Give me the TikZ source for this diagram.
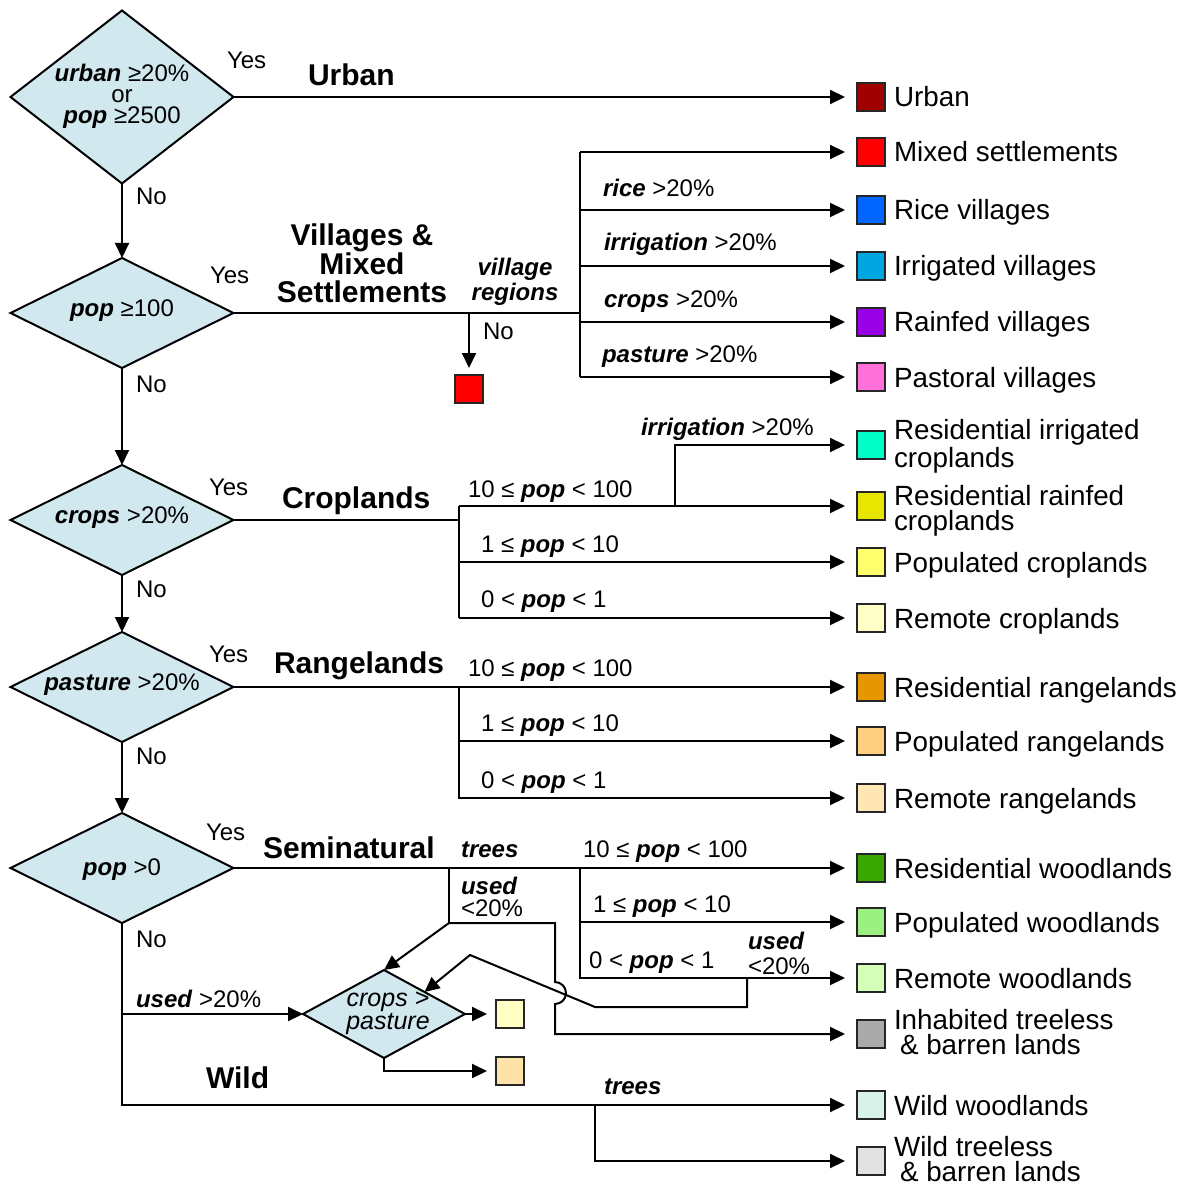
\documentclass[tikz,border=0pt]{standalone}
\usepackage{fontspec}
\setmainfont{Liberation Sans}
\usetikzlibrary{arrows.meta,shapes.geometric,calc}
\definecolor{dfill}{HTML}{D0E8EE}
\definecolor{cUrban}{HTML}{A00000}
\definecolor{cMixed}{HTML}{FF0000}
\definecolor{cRice}{HTML}{0066FF}
\definecolor{cIrr}{HTML}{00A6E0}
\definecolor{cRain}{HTML}{9900E6}
\definecolor{cPast}{HTML}{FF70D8}
\definecolor{cRIC}{HTML}{00FFC8}
\definecolor{cRRC}{HTML}{E6E600}
\definecolor{cPC}{HTML}{FFFF6E}
\definecolor{cRC}{HTML}{FFFFC8}
\definecolor{cRR}{HTML}{E69600}
\definecolor{cPR}{HTML}{FFCF80}
\definecolor{cRemR}{HTML}{FFE6B4}
\definecolor{cRW}{HTML}{38A800}
\definecolor{cPW}{HTML}{9CF080}
\definecolor{cRemW}{HTML}{D4FFB8}
\definecolor{cIT}{HTML}{AAAAAA}
\definecolor{cWW}{HTML}{D8F2EA}
\definecolor{cWT}{HTML}{E1E1E1}
\definecolor{cDa}{HTML}{FFFFC4}
\definecolor{cDb}{HTML}{FFE2A8}
\newcommand{\bi}[1]{\textbf{\textit{#1}}}
\begin{document}
\begin{tikzpicture}[x=0.5pt,y=-0.5pt,
  line width=1pt,
  arr/.style={-{Triangle[length=7.5pt,width=7pt]}},
  toBox/.style={arr, shorten >=6pt},
  dec/.style={diamond, draw, fill=dfill, inner sep=0pt, outer sep=0pt},
  lbox/.style={draw=black!85, line width=0.7pt, minimum size=14pt, inner sep=0pt, outer sep=0pt, anchor=west},
  sbox/.style={draw=black!85, line width=0.7pt, minimum size=14pt, inner sep=0pt, outer sep=0pt},
  ltext/.style={font=\fontsize{13.9}{12.5}\selectfont, inner sep=0pt, anchor=base west},
  ltexttwo/.style={font=\fontsize{13.9}{12.5}\selectfont, inner sep=0pt, anchor=north west, align=left},
  small/.style={font=\fontsize{12}{10.5}\selectfont, inner sep=0pt, anchor=base west},
  smalltwo/.style={font=\fontsize{12}{11}\selectfont, inner sep=0pt, anchor=north west, align=left},
  big/.style={font=\fontsize{15}{14.2}\selectfont\bfseries, inner sep=0pt, anchor=base west},
  dtext/.style={font=\fontsize{12}{10.5}\selectfont, inner sep=0pt, align=center},
]
\useasboundingbox (0,0) rectangle (1184,1187);

% ---------- decision diamonds ----------
\node[dec, minimum width=111.5pt, minimum height=86.5pt] (d1) at (122,97) {};
\node[dec, minimum width=111.5pt, minimum height=55pt] (d2) at (122,313) {};
\node[dec, minimum width=111.5pt, minimum height=55pt] (d3) at (122,520) {};
\node[dec, minimum width=111.5pt, minimum height=55pt] (d4) at (122,687) {};
\node[dec, minimum width=111.5pt, minimum height=55pt] (d5) at (122,868) {};
\node[dec, minimum width=81pt, minimum height=44pt] (d6) at (384,1014) {};

\node[dtext, anchor=north] (t1) at (122,63) {\bi{urban} ≥20\%\\or\\\bi{pop} ≥2500};
\node[dtext, anchor=base] (t2) at (122,317) {\bi{pop} ≥100};
\node[dtext, anchor=base] (t3) at (122,523) {\bi{crops} >20\%};
\node[dtext, anchor=base] (t4) at (122,690) {\bi{pasture} >20\%};
\node[dtext, anchor=base] (t5) at (122,875) {\bi{pop} >0};
\node[dtext, font=\fontsize{12.5}{10.5}\selectfont\itshape] (t6) at (388,1013) {crops >\\pasture};

% ---------- legend boxes ----------
\node[lbox, fill=cUrban] (bUrban) at (857,97) {};
\node[lbox, fill=cMixed] (bMixed) at (857,152) {};
\node[lbox, fill=cRice] (bRice) at (857,210) {};
\node[lbox, fill=cIrr] (bIrr) at (857,266) {};
\node[lbox, fill=cRain] (bRain) at (857,322) {};
\node[lbox, fill=cPast] (bPast) at (857,377) {};
\node[lbox, fill=cRIC] (bRIC) at (857,445) {};
\node[lbox, fill=cRRC] (bRRC) at (857,506) {};
\node[lbox, fill=cPC] (bPC) at (857,562) {};
\node[lbox, fill=cRC] (bRC) at (857,618) {};
\node[lbox, fill=cRR] (bRR) at (857,687) {};
\node[lbox, fill=cPR] (bPR) at (857,741) {};
\node[lbox, fill=cRemR] (bRemR) at (857,798) {};
\node[lbox, fill=cRW] (bRW) at (857,868) {};
\node[lbox, fill=cPW] (bPW) at (857,922) {};
\node[lbox, fill=cRemW] (bRemW) at (857,978) {};
\node[lbox, fill=cIT] (bIT) at (857,1034) {};
\node[lbox, fill=cWW] (bWW) at (857,1105) {};
\node[lbox, fill=cWT] (bWT) at (857,1161) {};

\node[ltext] (lUrban) at (893,107) {Urban};
\node[ltext] (lMixed) at (893,162) {Mixed settlements};
\node[ltext] (lRice) at (893,220) {Rice villages};
\node[ltext] (lIrr) at (893,276) {Irrigated villages};
\node[ltext] (lRain) at (893,332) {Rainfed villages};
\node[ltext] (lPast) at (893,387) {Pastoral villages};
\node[ltexttwo] (lRIC) at (893,418) {Residential irrigated\\croplands};
\node[ltexttwo] (lRRC) at (893,484) {Residential rainfed\\croplands};
\node[ltext] (lPC) at (893,572) {Populated croplands};
\node[ltext] (lRC) at (893,628) {Remote croplands};
\node[ltext] (lRR) at (893,697) {Residential rangelands};
\node[ltext] (lPR) at (893,751) {Populated rangelands};
\node[ltext] (lRemR) at (893,808) {Remote rangelands};
\node[ltext] (lRW) at (893,878) {Residential woodlands};
\node[ltext] (lPW) at (893,932) {Populated woodlands};
\node[ltext] (lRemW) at (893,988) {Remote woodlands};
\node[ltexttwo] (lIT) at (893,1008) {Inhabited treeless\\\hspace{3pt}\& barren lands};
\node[ltext] (lWW) at (893,1115) {Wild woodlands};
\node[ltexttwo] (lWT) at (893,1135) {Wild treeless\\\hspace{3pt}\& barren lands};

% extra boxes
\node[sbox, fill=cMixed] (vnbox) at (469,389) {};
\node[sbox, fill=cDa] (c1) at (510,1014) {};
\node[sbox, fill=cDb] (c2) at (510,1071) {};

% ---------- Yes / No ----------
\node[small] (y1) at (226,69) {Yes};
\node[small] (y2) at (209,284) {Yes};
\node[small] (y3) at (208,495) {Yes};
\node[small] (y4) at (208,662) {Yes};
\node[small] (y5) at (205,840) {Yes};
\node[small] (n1) at (135,205) {No};
\node[small] (n2) at (135,392) {No};
\node[small] (n3) at (135,597) {No};
\node[small] (n4) at (135,764) {No};
\node[small] (n5) at (135,947) {No};
\node[small] (n6) at (482,340) {No};

% ---------- category titles ----------
\node[big] (gUrban) at (307,86) {Urban};
\node[font=\fontsize{15}{14.2}\selectfont\bfseries, inner sep=0pt, anchor=north, align=center] (gVill) at (362,223) {Villages \&\\Mixed\\Settlements};
\node[big] (gCrop) at (281,508) {Croplands};
\node[big] (gRange) at (273,673) {Rangelands};
\node[big] (gSemi) at (262,858) {Seminatural};
\node[big] (gWild) at (205,1088) {Wild};

% ---------- branch labels ----------
\node[font=\fontsize{12}{12.5}\selectfont\bfseries\itshape, inner sep=0pt, anchor=north, align=center] (vreg) at (515,257) {village\\regions};
\node[small] (lrice) at (602,197) {\bi{rice} >20\%};
\node[small] (lirr) at (603,251) {\bi{irrigation} >20\%};
\node[small] (lcrops) at (603,307) {\bi{crops} >20\%};
\node[small] (lpast) at (601,362) {\bi{pasture} >20\%};
\node[small] (lcirr) at (640,435) {\bi{irrigation} >20\%};
\node[small] (lc1) at (467,497) {10 ≤ \bi{pop} < 100};
\node[small] (lc2) at (480,552) {1 ≤ \bi{pop} < 10};
\node[small] (lc3) at (480,607) {0 < \bi{pop} < 1};
\node[small] (lr1) at (467,676) {10 ≤ \bi{pop} < 100};
\node[small] (lr2) at (480,731) {1 ≤ \bi{pop} < 10};
\node[small] (lr3) at (480,788) {0 < \bi{pop} < 1};
\node[small] (ls1) at (582,857) {10 ≤ \bi{pop} < 100};
\node[small] (ls2) at (592,912) {1 ≤ \bi{pop} < 10};
\node[small] (ls3) at (588,968) {0 < \bi{pop} < 1};
\node[small] (ltrees) at (460,857) {\bi{trees}};
\node[smalltwo] (lused1) at (460,876) {\bi{used}\\<20\%};
\node[font=\fontsize{12}{12.5}\selectfont, inner sep=0pt, anchor=north west, align=left] (lused2) at (747,931) {\bi{used}\\<20\%};
\node[small] (lused3) at (135,1007) {\bi{used} >20\%};
\node[small] (ltrees2) at (603,1094) {\bi{trees}};

% ---------- connectors ----------
\draw[arr] (d1.south) -- (d2.north);
\draw[arr] (d2.south) -- (d3.north);
\draw[arr] (d3.south) -- (d4.north);
\draw[arr] (d4.south) -- (d5.north);

% urban
\draw[toBox] (d1.east) -- (bUrban.west);

% villages
\coordinate (vj) at (580,313);
\coordinate (vtop) at (580,152);
\coordinate (vbot) at (580,377);
\coordinate (vn) at (469,313);
\draw (d2.east) -- (vj);
\draw (vtop) -- (vbot);
\draw[toBox] (vtop) -- (bMixed.west);
\draw[toBox] (vtop |- bRice.west) -- (bRice.west);
\draw[toBox] (vtop |- bIrr.west) -- (bIrr.west);
\draw[toBox] (vtop |- bRain.west) -- (bRain.west);
\draw[toBox] (vbot) -- (bPast.west);
\draw[arr, shorten >=3.5pt] (vn) -- (vnbox.north);

% croplands
\coordinate (cj) at (459,520);
\coordinate (ctop) at (459,506);
\coordinate (cbot) at (459,618);
\coordinate (cirr) at (675,506);
\draw (d3.east) -- (cj);
\draw (ctop) -- (cbot);
\draw[toBox] (ctop) -- (bRRC.west);
\draw[toBox] (cirr) |- (bRIC.west);
\draw[toBox] (ctop |- bPC.west) -- (bPC.west);
\draw[toBox] (cbot) -- (bRC.west);

% rangelands
\coordinate (rj) at (459,687);
\draw[toBox] (d4.east) -- (bRR.west);
\draw[toBox] (rj) |- (bRemR.west);
\draw[toBox] (rj |- bPR.west) -- (bPR.west);

% seminatural
\coordinate (sj) at (580,868);
\draw[toBox] (d5.east) -- (bRW.west);
\draw[toBox] (sj) |- (bRemW.west);
\draw[toBox] (sj |- bPW.west) -- (bPW.west);

\coordinate (tj) at (449,868);
\coordinate (tk) at (449,923);
\coordinate (h1) at (555,923);
\coordinate (h2) at (555,982);
\coordinate (h3) at (555,1034);
\draw (tj) -- (tk);
\draw[arr] (tk) -- (d6.north);
\draw[toBox] (tk) -- (h1) -- (h2) arc[start angle=90, end angle=-90, radius=5.5pt] -- (h3) -- (bIT.west);

\coordinate (u2a) at (747,978);
\coordinate (u2b) at (747,1007);
\coordinate (u2c) at (595,1007);
\coordinate (u2d) at (470,955);
\draw[arr] (u2a) -- (u2b) -- (u2c) -- (u2d) -- ($(d6.north)!0.5!(d6.east)$);

% wild
\coordinate (uj) at (122,1014);
\coordinate (wt) at (595,1105);
\draw[toBox] (d5.south) |- (bWW.west);
\draw[arr] (uj) -- (d6.west);
\draw[toBox] (wt) |- (bWT.west);

% crops > pasture outcomes
\draw[arr, shorten >=4.5pt] (d6.east) -- (c1.west);
\draw[arr, shorten >=4.5pt] (d6.south) |- (c2.west);
\end{tikzpicture}
\end{document}
